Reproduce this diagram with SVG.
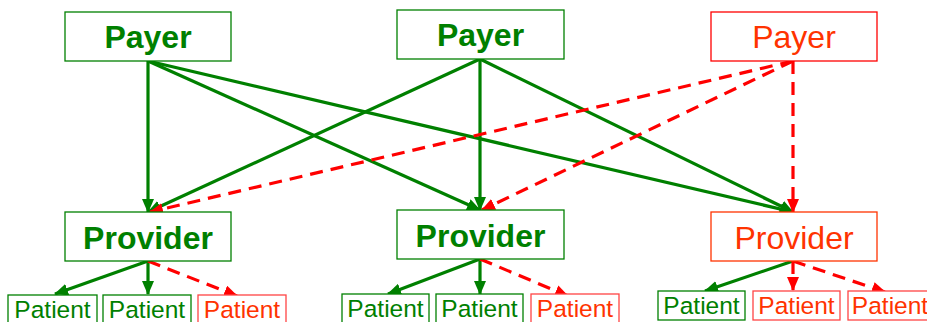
<svg xmlns="http://www.w3.org/2000/svg" width="927" height="322" viewBox="0 0 927 322">
<defs>
<style>
.box{fill:#fff;stroke-width:1.3}
.g{stroke:#008000}
.r{stroke:#ff0000}
.ro{stroke:#ff3300}
.rp{stroke:#ff4444}
.t{font-family:"Liberation Sans",Arial,sans-serif;text-anchor:middle}
.big{font-size:32px}
.b{font-weight:bold}
.pt{font-size:24.5px}
.tg{fill:#008000}
.tr{fill:#ff3300}
.eg{stroke:#008000;stroke-width:3.2;fill:none;marker-end:url(#ag)}
.er{stroke:#ff0000;stroke-width:3.2;fill:none;stroke-dasharray:13 8;marker-end:url(#ar)}
</style>
<marker id="ag" markerUnits="userSpaceOnUse" markerWidth="14" markerHeight="12" refX="13" refY="6" orient="auto"><path d="M0,0 L14,6 L0,12 z" fill="#008000"/></marker>
<marker id="ar" markerUnits="userSpaceOnUse" markerWidth="14" markerHeight="12" refX="13" refY="6" orient="auto"><path d="M0,0 L14,6 L0,12 z" fill="#ff0000"/></marker>
</defs>
<rect width="927" height="322" fill="#fff"/>
<g id="connectors">
<line class="eg" x1="148" y1="61" x2="148" y2="212"/>
<line class="eg" x1="148" y1="61" x2="480" y2="210"/>
<line class="eg" x1="148" y1="61" x2="793" y2="212"/>
<line class="eg" x1="480" y1="59" x2="148" y2="212"/>
<line class="eg" x1="480" y1="59" x2="480" y2="210"/>
<line class="eg" x1="480" y1="59" x2="793" y2="212"/>
<line class="er" x1="793" y1="61" x2="150" y2="212"/>
<line class="er" x1="793" y1="61" x2="482" y2="210"/>
<line class="er" x1="793" y1="61" x2="793" y2="212"/>
<line class="eg" x1="148" y1="261" x2="55" y2="294"/>
<line class="eg" x1="148" y1="261" x2="148" y2="294"/>
<line class="er" x1="148" y1="261" x2="237" y2="296"/>
<line class="eg" x1="480" y1="259" x2="388" y2="294"/>
<line class="eg" x1="480" y1="259" x2="480" y2="294"/>
<line class="er" x1="480" y1="259" x2="568" y2="296"/>
<line class="eg" x1="793" y1="261" x2="705" y2="291"/>
<line class="er" x1="793" y1="261" x2="793" y2="290"/>
<line class="er" x1="793" y1="261" x2="885" y2="292"/>
</g>
<g id="payer1"><rect class="box g" x="65" y="12" width="166" height="49"/><text class="t big b tg" x="148" y="48">Payer</text></g>
<g id="payer2"><rect class="box g" x="397" y="10" width="167" height="49"/><text class="t big b tg" x="480.5" y="46">Payer</text></g>
<g id="payer3"><rect class="box r" x="711" y="12" width="166" height="49"/><text class="t big tr" x="794" y="48">Payer</text></g>
<g id="provider1"><rect class="box g" x="65" y="212" width="166" height="49"/><text class="t big b tg" x="148" y="249">Provider</text></g>
<g id="provider2"><rect class="box g" x="397" y="210" width="167" height="49"/><text class="t big b tg" x="480.5" y="247">Provider</text></g>
<g id="provider3"><rect class="box ro" x="711" y="212" width="166" height="49"/><text class="t big tr" x="794" y="249">Provider</text></g>
<g id="patient1a"><rect class="box g" x="8" y="295" width="89" height="30"/><text class="t pt tg" x="52.5" y="318">Patient</text></g>
<g id="patient1b"><rect class="box g" x="103" y="295" width="88" height="30"/><text class="t pt tg" x="147" y="318">Patient</text></g>
<g id="patient1c"><rect class="box rp" x="198" y="295" width="88" height="30"/><text class="t pt tr" x="242" y="318">Patient</text></g>
<g id="patient2a"><rect class="box g" x="342" y="294" width="87" height="30"/><text class="t pt tg" x="385.5" y="317">Patient</text></g>
<g id="patient2b"><rect class="box g" x="436" y="294" width="87" height="30"/><text class="t pt tg" x="479.5" y="317">Patient</text></g>
<g id="patient2c"><rect class="box rp" x="531" y="294" width="88" height="30"/><text class="t pt tr" x="575" y="317">Patient</text></g>
<g id="patient3a"><rect class="box g" x="658" y="291" width="87" height="29"/><text class="t pt tg" x="701.5" y="314">Patient</text></g>
<g id="patient3b"><rect class="box rp" x="753" y="291" width="87" height="29"/><text class="t pt tr" x="796.5" y="314">Patient</text></g>
<g id="patient3c"><rect class="box rp" x="848" y="291" width="88" height="29"/><text class="t pt tr" x="890" y="314">Patient</text></g>
</svg>
